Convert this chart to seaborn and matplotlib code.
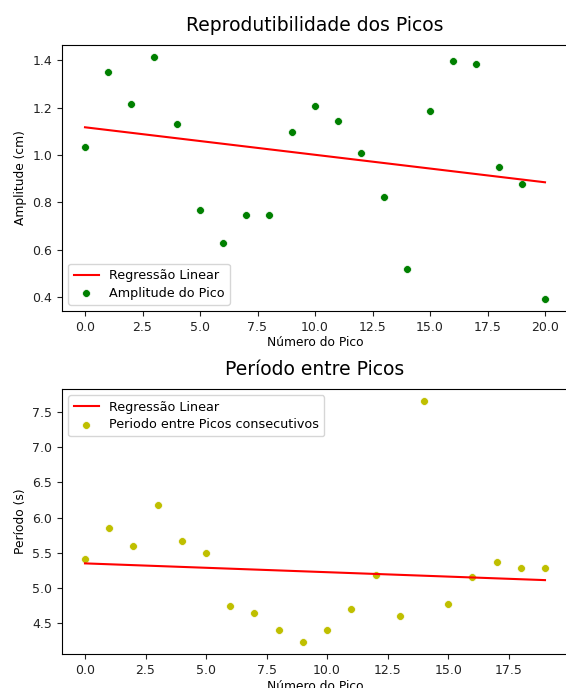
import numpy as np
import pandas as pd
import matplotlib
matplotlib.use("Agg")
import matplotlib.pyplot as plt
import seaborn as sns

# ---- data ----
pico_amp = list(range(21))
amplitude = [1.034, 1.349, 1.213, 1.413, 1.132, 0.766, 0.630, 0.745, 0.745, 1.098,
             1.208, 1.145, 1.009, 0.821, 0.519, 1.187, 1.396, 1.383, 0.949, 0.877, 0.392]

pico_per = list(range(20))
periodo = [5.41, 5.848, 5.603, 6.172, 5.669, 5.504, 4.742, 4.643, 4.403, 4.237,
           4.403, 4.709, 5.179, 4.61, 7.651, 4.774, 5.151, 5.373, 5.278, 5.278]

title_top = "Reprodutibilidade dos Picos"
title_bot = "Período entre Picos"
xlabel = "Número do Pico"
ylabel_top = "Amplitude (cm)"
ylabel_bot = "Período (s)"
lbl_reg = "Regressão Linear"
lbl_amp = "Amplitude do Pico"
lbl_per = "Periodo entre Picos consecutivos"

plt.rcParams['font.family'] = ['DejaVu Sans']
FS_TICK = 9.0
FS_LAB = 8.8
FS_LEG = 9.2

fig = plt.figure(figsize=(5.66, 6.88), dpi=100)
W, H = 566, 688
def rect(l, t, r, b):
    return [l / W, 1 - b / H, (r - l) / W, (b - t) / H]

ax1 = fig.add_axes(rect(62, 45, 568, 311))
ax2 = fig.add_axes(rect(62, 389, 568, 654))

def draw(ax, x, y, color, lbl, loc, title, ylab):
    x = np.asarray(x, float); y = np.asarray(y, float)
    m, c = np.polyfit(x, y, 1)
    df_line = pd.DataFrame({"x": x, "y": m * x + c})
    sns.lineplot(data=df_line, x="x", y="y", ax=ax, color="red", lw=1.5, label=lbl_reg)
    df = pd.DataFrame({"x": x, "y": y})
    sns.scatterplot(data=df, x="x", y="y", ax=ax, color=color, s=32,
                    edgecolor="white", linewidth=0.5, label=lbl)
    ax.set_title(title, fontsize=13.5, pad=10)
    ax.set_xlabel(xlabel, fontsize=FS_LAB, labelpad=2)
    ax.set_ylabel(ylab, fontsize=FS_LAB, labelpad=4)
    ax.tick_params(labelsize=FS_TICK, colors="#222222")
    ax.legend(loc=loc, fontsize=FS_LEG, handlelength=2.0, borderpad=0.4, labelspacing=0.35)

draw(ax1, pico_amp, amplitude, "green", lbl_amp, "lower left", title_top, ylabel_top)
ax1.set_xticks([0, 2.5, 5, 7.5, 10, 12.5, 15, 17.5, 20])
ax1.set_xticklabels(["0.0", "2.5", "5.0", "7.5", "10.0", "12.5", "15.0", "17.5", "20.0"])
ax1.set_xlim(-1.0, 21.0)
draw(ax2, pico_per, periodo, "#bfbf00", lbl_per, "upper left", title_bot, ylabel_bot)
ax2.set_xticks([0, 2.5, 5, 7.5, 10, 12.5, 15, 17.5])
ax2.set_xticklabels(["0.0", "2.5", "5.0", "7.5", "10.0", "12.5", "15.0", "17.5"])
ax2.set_xlim(-0.95, 19.95)

fig.savefig("out.png", dpi=100)
